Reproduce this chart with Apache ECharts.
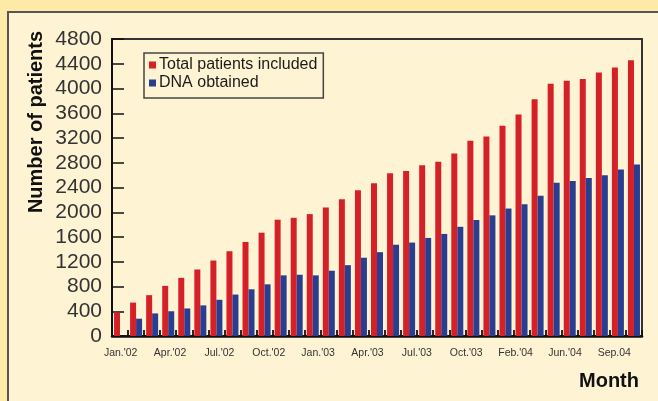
<!DOCTYPE html>
<html>
<head>
<meta charset="utf-8">
<script src="https://cdn.jsdelivr.net/npm/echarts@6/dist/echarts.min.js"></script>
<style>
html,body{margin:0;padding:0;background:#fdeaa8;}
#c{width:658px;height:401px;}
</style>
</head>
<body>
<div id="c"></div>
<script>
// Months Jan '02 .. Sep '04 (33 categories)
var months = ["Jan02","Feb02","Mar02","Apr02","May02","Jun02","Jul02","Aug02","Sep02","Oct02","Nov02","Dec02",
              "Jan03","Feb03","Mar03","Apr03","May03","Jun03","Jul03","Aug03","Sep03","Oct03","Nov03","Dec03",
              "Jan04","Feb04","Mar04","Apr04","May04","Jun04","Jul04","Aug04","Sep04"];
var totalPatients = [380,540,660,810,940,1075,1220,1370,1520,1670,1880,1910,1970,2075,
                     2210,2355,2470,2630,2665,2760,2815,2950,3155,3225,3400,3580,3825,4075,4125,4155,4260,4340,4455];
var dnaObtained = [0,280,365,400,445,495,585,670,755,835,980,990,980,1055,
                   1145,1265,1355,1475,1510,1585,1650,1765,1875,1950,2060,2130,2265,2475,2505,2555,2600,2690,2770];
var tickLabels = ["Jan.'02","Apr.'02","Jul.'02","Oct.'02","Jan.'03","Apr.'03","Jul.'03","Oct.'03","Feb.'04","Jun.'04","Sep.04"];
var yTicks = [0,400,800,1200,1600,2000,2400,2800,3200,3600,4000,4400,4800];

var FONT = "'Liberation Sans', Arial, sans-serif";
var chart = echarts.init(document.getElementById('c'), null, {renderer:'canvas'});
chart.setOption({
  backgroundColor: '#fdeaa8',
  animation: false,
  graphic: [
    {type:'rect', z:-10, shape:{x:8,y:12,width:700,height:420}, style:{fill:'#fef4d4', stroke:'#555', lineWidth:2}},
    {type:'text', x:36, y:122, rotation:Math.PI/2, style:{text:'Number of patients', font:"bold 20px "+FONT, fill:'#111', align:'center', verticalAlign:'middle'}},
    {type:'text', x:639, y:381, style:{text:'Month', font:"bold 20px "+FONT, fill:'#111', align:'right', verticalAlign:'middle'}}
  ],
  legend: {
    orient:'vertical', left:144, top:53,
    padding:[4,6,7,5], itemGap:2, itemWidth:7, itemHeight:7,
    borderColor:'#444', borderWidth:1.5,
    textStyle:{fontFamily:FONT, fontSize:16, color:'#1a1a1a', padding:[0,0,0,-2]},
    data:[{name:'Total patients included', icon:'rect'},{name:'DNA obtained', icon:'rect'}]
  },
  grid: [
    {left:112, top:39, width:530, height:297, show:true, borderColor:'#333', borderWidth:2, backgroundColor:'transparent'},
    {left:96, top:39, width:543, height:297, show:false}
  ],
  xAxis: [
    {type:'category', gridIndex:0, data:months, boundaryGap:true,
     axisLine:{lineStyle:{color:'#111', width:2.5}},
     axisTick:{show:true, inside:true, length:6, interval:0, lineStyle:{color:'#111', width:1.8}},
     axisLabel:{show:false}, splitLine:{show:false}},
    {type:'category', gridIndex:1, data:tickLabels, boundaryGap:true,
     axisLine:{show:false}, axisTick:{show:false},
     axisLabel:{show:true, interval:0, margin:12, fontFamily:FONT, fontSize:10.5, color:'#333'}}
  ],
  yAxis: [
    {type:'value', gridIndex:0, min:0, max:4800, interval:400,
     axisLine:{show:true, lineStyle:{color:'#111', width:2}},
     axisTick:{show:true, inside:true, length:12, lineStyle:{color:'#111', width:1.5}},
     axisLabel:{margin:10, fontFamily:FONT, fontSize:21, color:'#333',
       formatter:function(v){return yTicks.indexOf(v)>=0 ? String(v) : '';}},
     splitLine:{show:false}},
    {type:'value', gridIndex:1, min:0, max:4800, show:false}
  ],
  series: [
    {name:'Total patients included', type:'bar', xAxisIndex:0, yAxisIndex:0, data:totalPatients,
     barWidth:6, barGap:'0%', itemStyle:{color:'#d62028'}},
    {name:'DNA obtained', type:'bar', xAxisIndex:0, yAxisIndex:0, data:dnaObtained,
     barWidth:6, barGap:'0%', itemStyle:{color:'#2a3e91'}}
  ]
});
</script>
</body>
</html>
